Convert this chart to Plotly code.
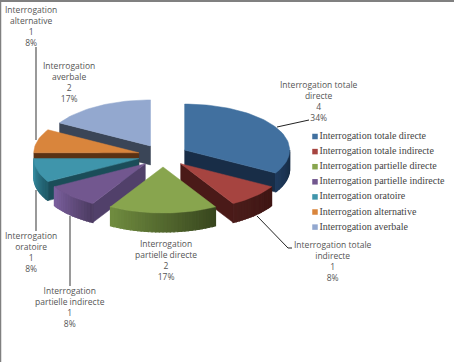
import math
import plotly.graph_objects as go

# ---- data ----
categories = ["Interrogation totale directe", "Interrogation totale indirecte",
              "Interrogation partielle directe", "Interrogation partielle indirecte",
              "Interrogation oratoire", "Interrogation alternative", "Interrogation averbale"]
values = [4, 1, 2, 1, 1, 1, 2]
percents = [34, 8, 17, 8, 8, 8, 17]
label_lines = [["Interrogation totale", "directe"], ["Interrogation totale", "indirecte"],
               ["Interrogation", "partielle directe"], ["Interrogation", "partielle indirecte"],
               ["Interrogation", "oratoire"], ["Interrogation", "alternative"],
               ["Interrogation", "averbale"]]
# ---- styles ----
top_colors = ["#41709f", "#a64440", "#88a54e", "#72578f", "#3f95ab", "#d9853c", "#93a8cf"]
wall_colors = ["#182d47", "#4a1a18", "#4f6128", "#51406a", "#1b4d59", "#5a3214", "#3a4557"]
arc_left = ["#1f3a5c", "#4a1c1a", "#6f8b3f", "#7a5f9c", "#358ba0", "#c97a35", "#6f84a8"]
arc_right = ["#162a42", "#3f1614", "#38461e", "#4d3c63", "#1f5a68", "#8f5422", "#3f4d66"]
label_pos = [(319, 101), (333, 261), (166, 260), (70, 307), (31, 252), (31, 26), (69, 82)]
leaders = [([277, 309], [127, 120], "#222222", 1),
           ([257, 288, 292], [216, 248, 248], "#222222", 1),
           ([70, 70], [216, 286], "#808080", 1.6),
           ([36, 36], [190, 231], "#808080", 1.6),
           ([36, 36], [47, 140], "#808080", 1.6)]
draw_order = [6, 5, 0, 4, 1, 3, 2]

W, H = 454, 362
CX, CY, RX, RY, DEPTH = 163, 155.7, 105, 46, 19
EXPLODE_X, EXPLODE_Y = 25, 11.3
LEGEND_X, LEGEND_Y0, LEGEND_STEP = 315, 136.5, 15.1

total = sum(values)
starts, acc = [], 0
for v in values:
    starts.append(acc / total * 360)
    acc += v


def pt(ax, ay, deg, dz=0):
    a = math.radians(deg)
    return ax + RX * math.sin(a), ay - RY * math.cos(a) + dz


def poly(points, color, lw=0.5):
    xs = [p[0] for p in points] + [points[0][0]]
    ys = [p[1] for p in points] + [points[0][1]]
    return go.Scatter(x=xs, y=ys, mode="lines", fill="toself", fillcolor=color,
                      line=dict(color=color, width=lw), hoverinfo="skip", showlegend=False)


def lerp(c1, c2, t):
    a = [int(c1[i:i + 2], 16) for i in (1, 3, 5)]
    b = [int(c2[i:i + 2], 16) for i in (1, 3, 5)]
    return "#%02x%02x%02x" % tuple(round(p + (q - p) * t) for p, q in zip(a, b))


fig = go.Figure()
for i in draw_order:
    s = starts[i]
    e = s + values[i] / total * 360
    mid = math.radians((s + e) / 2)
    ax = CX + EXPLODE_X * math.sin(mid)
    ay = CY - EXPLODE_Y * math.cos(mid)
    # radial walls
    for ang, visible in ((s, 180 <= s % 360 < 360), (e, 0 < e % 360 <= 180)):
        if visible:
            p = pt(ax, ay, ang)
            q = pt(ax, ay, ang, DEPTH)
            fig.add_trace(poly([(ax, ay), p, q, (ax, ay + DEPTH)], wall_colors[i]))
    # outer arc side, lower half only
    lo, hi = max(s, 90), min(e, 270)
    steps = max(1, int((hi - lo) / 2)) if hi > lo else 0
    for k in range(steps):
        a1 = lo + (hi - lo) * k / steps
        a2 = lo + (hi - lo) * (k + 1) / steps
        t = k / max(1, steps - 1)
        c = lerp(arc_right[i], arc_left[i], t)
        fig.add_trace(poly([pt(ax, ay, a1), pt(ax, ay, a2), pt(ax, ay, a2, DEPTH), pt(ax, ay, a1, DEPTH)], c, 1.2))
    # top face
    n = max(8, int((e - s) / 2))
    arc = [pt(ax, ay, s + (e - s) * k / n) for k in range(n + 1)]
    fig.add_trace(poly([(ax, ay)] + arc, top_colors[i]))

for xs, ys, col, w in leaders:
    fig.add_trace(go.Scatter(x=xs, y=ys, mode="lines", line=dict(color=col, width=w),
                             hoverinfo="skip", showlegend=False))

# legend rows: swatch and text
fig.add_trace(go.Scatter(
    x=[LEGEND_X] * len(categories),
    y=[LEGEND_Y0 + LEGEND_STEP * k for k in range(len(categories))],
    mode="markers+text", text=categories, textposition="middle right",
    textfont=dict(family="Liberation Serif", size=10, color="#444444"),
    marker=dict(symbol="square", size=5.5, color=top_colors),
    hoverinfo="skip", showlegend=False, cliponaxis=False))

for i in range(len(categories)):
    lines = label_lines[i] + [str(values[i]), f"{percents[i]}%"]
    fig.add_annotation(x=label_pos[i][0], y=label_pos[i][1], text="<br>".join(lines), showarrow=False,
                       font=dict(family="Open Sans", size=8.5, color="#555555"), align="center")

fig.update_xaxes(range=[0, W], visible=False, fixedrange=True)
fig.update_yaxes(range=[H, 0], visible=False, fixedrange=True)
fig.update_layout(
    width=W, height=H, margin=dict(l=0, r=0, t=0, b=0), paper_bgcolor="white", plot_bgcolor="white",
    showlegend=False,
    shapes=[dict(type="line", xref="paper", yref="paper", x0=0, x1=1, y0=1 - 1 / H, y1=1 - 1 / H,
                 line=dict(color="#808080", width=2)),
            dict(type="line", xref="paper", yref="paper", x0=0.5 / W, x1=0.5 / W, y0=0, y1=1,
                 line=dict(color="#808080", width=1.5))],
)
fig.write_html("out.html", config={"displayModeBar": False},
               post_script="document.body.style.margin='0';document.body.style.overflow='hidden';")
